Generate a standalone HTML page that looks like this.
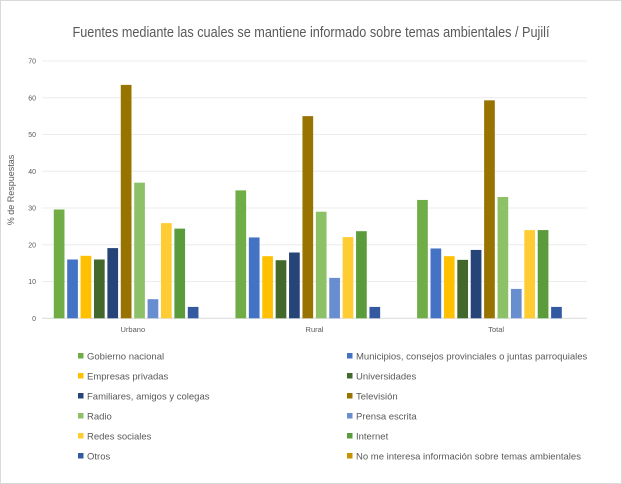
<!DOCTYPE html>
<html><head><meta charset="utf-8"><style>
html,body{margin:0;padding:0;background:#fff;}
svg{display:block;font-family:"Liberation Sans",sans-serif;}
</style></head><body>
<svg id="chart" width="622" height="484" viewBox="0 0 622 484">
<rect x="0.5" y="0.5" width="621" height="483" fill="#fff" stroke="#d9d9d9"/>
<text x="311" y="37" text-anchor="middle" font-size="15" fill="#595959" textLength="477" lengthAdjust="spacingAndGlyphs">Fuentes mediante las cuales se mantiene informado sobre temas ambientales / Pujilí</text>
<text transform="translate(14,190) rotate(-90)" text-anchor="middle" font-size="9" fill="#595959">% de Respuestas</text>
<g id="grid"></g><g id="bars"></g><g id="legend"></g>
</svg>
<script>
const categories = ["Urbano","Rural","Total"];
const seriesNames = ["Gobierno nacional","Municipios, consejos provinciales o juntas parroquiales","Empresas privadas","Universidades","Familiares, amigos y colegas","Televisión","Radio","Prensa escrita","Redes sociales","Internet","Otros","No me interesa información sobre temas ambientales"];
const urbano = [29.6,16.0,17.0,16.0,19.1,63.5,36.9,5.2,25.9,24.4,3.1,0];
const rural = [34.8,22.0,16.9,15.8,17.9,55.0,29.0,11.0,22.1,23.7,3.1,0];
const total = [32.2,19.0,16.9,15.9,18.6,59.3,33.0,8.0,24.0,24.0,3.1,0];
const yTicks = [0,10,20,30,40,50,60,70];
const colors = ["#70AD47","#4472C4","#FFC000","#43682B","#264478","#997300","#8CC168","#698ED0","#FFCD33","#5B9B3C","#335AA1","#C69200"];
const NS="http://www.w3.org/2000/svg";
const plotL=42, plotR=587, plotT=61, plotB=318.3, yMax=70;
const y=v=>plotB-(v/yMax)*(plotB-plotT);
const catW=(plotR-plotL)/categories.length;
const barStep=13.4, barW=10.7;
const xBar=(c,s)=>plotL+c*catW+(catW-barStep*seriesNames.length)/2+s*barStep+(barStep-barW)/2;
function mk(tag,attrs,parent){const e=document.createElementNS(NS,tag);for(const k in attrs)e.setAttribute(k,attrs[k]);parent.appendChild(e);return e;}
const grid=document.getElementById('grid');
yTicks.forEach(t=>{
  const l=mk('line',{x1:plotL,x2:plotR,y1:y(t),y2:y(t),stroke:t===0?'#d9d9d9':'#ececec','stroke-width':1},grid);
  
  
  const tx=mk('text',{x:36,y:y(t)+2.5,'text-anchor':'end','font-size':7,fill:'#595959'},grid);
  tx.textContent=t;
  
  
});
const data=[urbano,rural,total];
const bars=document.getElementById('bars');
categories.forEach((c,ci)=>{
  data[ci].forEach((v,si)=>{
    if(v<=0)return;
    const r=mk('rect',{x:xBar(ci,si),y:y(v),width:barW,height:plotB-y(v),fill:colors[si]},bars);
    
    
  });
  const t=mk('text',{x:plotL+catW*(ci+0.5),y:332,'text-anchor':'middle','font-size':7.5,fill:'#595959'},bars);
  t.textContent=c;
  
  
});
const lg=document.getElementById('legend');
seriesNames.forEach((n,i)=>{
  const col=i%2,row=Math.floor(i/2);
  const mx=col?347:78, cy=356+row*20;
  const g=mk('g',{},lg);
  
  
  mk('rect',{x:mx,y:cy-3,width:5.5,height:5.5,fill:colors[i]},g);
  const t=mk('text',{x:mx+9,y:cy+3.5,'font-size':9.5,fill:'#595959'},g);
  t.textContent=n;
});
</script>
</body></html>
